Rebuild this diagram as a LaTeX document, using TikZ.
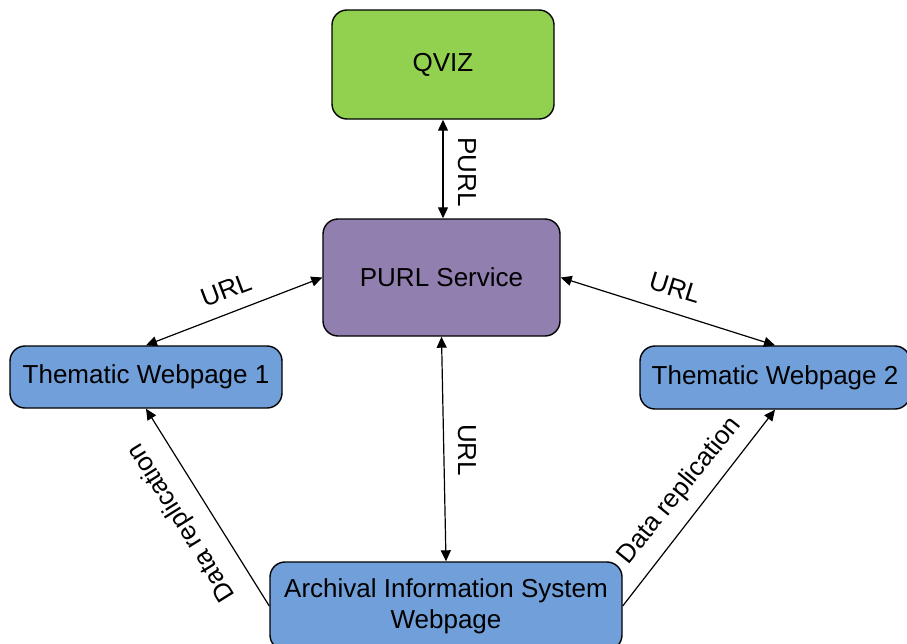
\documentclass[tikz,border=0pt]{standalone}
\usepackage{fontspec}
\setmainfont{Liberation Sans}
\usetikzlibrary{arrows.meta}
\definecolor{qvizgreen}{HTML}{92D050}
\definecolor{purlpurple}{HTML}{917FAF}
\definecolor{pageblue}{HTML}{709FDA}
\tikzset{
  box/.style={draw=black, line width=1.4pt, rounded corners=15pt, inner sep=0pt,
              align=center, font=\fontsize{26}{31}\selectfont},
  link/.style={line width=1.2pt, {Triangle[length=11pt,width=10pt]}-{Triangle[length=11pt,width=10pt]}},
  onelink/.style={line width=1.2pt, -{Triangle[length=11pt,width=10pt]}},
  lbl/.style={font=\fontsize{26}{31}\selectfont, inner sep=0pt}
}
\begin{document}
\begin{tikzpicture}[x=1pt,y=-1pt]
  \useasboundingbox (0,0) rectangle (907,643);
  % boxes
  \node[box, fill=qvizgreen, minimum width=222pt, minimum height=109pt] (qviz) at (443,64.5) {QVIZ};
  \node[box, fill=purlpurple, minimum width=237pt, minimum height=117pt] (purl) at (441.5,277.5) {PURL Service};
  \node[box, fill=pageblue, minimum width=272pt, minimum height=62pt] (tw1) at (146,377) {Thematic Webpage 1};
  \node[box, fill=pageblue, minimum width=270pt, minimum height=63pt] (tw2) at (775,377.5) {Thematic Webpage 2};
  \node[box, fill=pageblue, minimum width=352pt, minimum height=88pt] (arc) at (446,606)
       {Archival Information System\\Webpage};
  % connectors
  \draw[link] (qviz.south) -- (qviz.south |- purl.north);
  \draw[link] (purl.west) -- (tw1.north);
  \draw[link] (purl.east) -- (tw2.north);
  \draw[link] (purl.south) -- (arc.north);
  \draw[onelink] (arc.west) -- (tw1.south);
  \draw[onelink] (arc.east) -- (tw2.south);
  % labels
  \node[lbl, rotate=-90] (l1) at (467,172) {PURL};
  \node[lbl, rotate=20.6] (l2) at (226,290) {URL};
  \node[lbl, rotate=-17] (l3) at (675,288) {URL};
  \node[lbl, rotate=-90] (l4) at (467,450) {URL};
  \node[lbl, rotate=122] (l5) at (182,522) {Data replication};
  \node[lbl, rotate=51] (l6) at (680,491) {Data replication};
\end{tikzpicture}
\end{document}
